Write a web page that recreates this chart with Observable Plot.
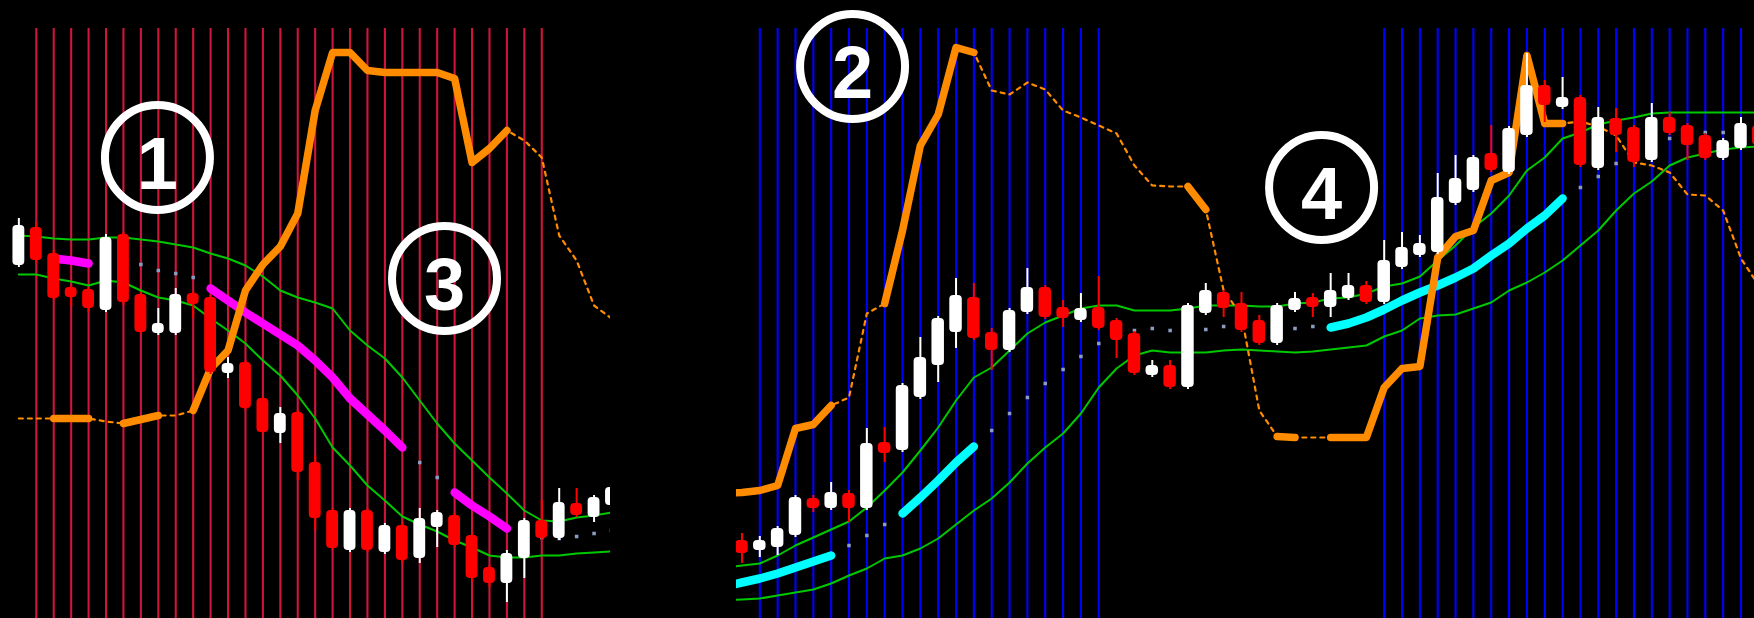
<!DOCTYPE html>
<html><head><meta charset="utf-8">
<script src="https://cdn.jsdelivr.net/npm/d3@7"></script>
<script src="https://cdn.jsdelivr.net/npm/@observablehq/plot@0.6"></script>
<style>
html,body{margin:0;padding:0;background:#000;}
#chart{position:relative;width:1754px;height:618px;background:#000;overflow:hidden;}
.panel{position:absolute;top:0;height:618px;overflow:hidden;}
</style></head><body><div id="chart"></div>
<script>
// ---------- shared price frame ----------
const PRICE_MIN = 82, PRICE_MAX = 700, GRID_TOP = 672;

// ---------- LEFT PANEL (first candle = slot -1) ----------
const leftCandleStart = -1;
const leftOpen  = [435,473,447,413,411,390,466,406,367,367,407,403,327,338,302,267,288,238,190,150,190,148,175,142,173,185,165,133,117,142,180,162,197,183,195];
const leftHigh  = [482,478,450,415,413,466,468,408,392,412,409,405,343,340,304,293,290,245,192,192,192,177,178,192,190,187,168,135,150,182,200,212,212,205,218];
const leftLow   = [433,437,400,394,388,388,395,366,365,365,382,326,322,290,266,257,220,170,150,148,148,146,137,137,153,153,118,113,98,122,160,160,183,178,193];
const leftClose = [475,440,402,403,392,463,398,368,377,406,396,328,337,292,268,287,228,182,152,190,150,175,140,182,188,155,122,117,147,180,162,198,185,203,213];

const leftLineStart = -1;
const leftUpper  = [465,464,462,461,461,463,463,461,459,456,453,447,442,435,424,410,403,398,392,370,355,342,323,300,277,257,240,223,207,190,180,179,183,185,188];
const leftLower  = [426,426,422,419,415,420,418,410,403,400,395,382,370,357,340,325,305,282,253,235,215,200,184,176,169,160,153,145,143,143,145,145,147,148,149];
const leftMiddle = [446,445,442,440,437,435,434,436,430,427,423,412,400,388,377,366,355,340,323,302,286,270,253,238,223,208,195,184,172,165,163,162,164,167,170];
const leftOrange = [282,282,282,282,282,279,277,281,285,285,290,332,350,410,436,454,487,590,648,648,630,628,628,628,628,622,538,552,570,560,543,465,440,395,382];
const leftTrendRanges  = [[1,3],[10,21],[24,27]];
const leftOrangeThick  = [[1,3],[5,7],[9,27]];
const leftGridSlots = [0,1,2,3,4,5,6,7,8,9,10,11,12,13,14,15,16,17,18,19,20,21,22,23,24,25,26,27,28,29];
const leftMarkers = [{i: 6.95, p: 543, label: "1"}, {i: 23.42, p: 422, label: "3"}];

// ---------- RIGHT PANEL ----------
const rightCandleStart = -1;
const rightOpen  = [160,150,153,165,202,192,207,192,258,250,303,335,368,403,368,350,388,413,393,380,393,380,367,325,335,313,387,408,397,380,357,390,403,393,402,415,398,433,445,448,497,510,547,528,565,615,593,603,532,582,573,540,583,575,565,542,552,575];
const rightHigh  = [167,164,174,205,205,218,210,272,273,317,363,384,422,417,372,392,432,415,400,407,424,382,369,340,340,397,417,410,408,385,397,408,407,427,427,419,460,468,465,527,545,545,575,574,647,620,623,605,593,592,575,597,588,577,567,562,583,577];
const rightLow   = [137,143,145,163,188,190,178,190,238,248,301,318,352,360,330,348,386,381,373,378,370,342,325,323,311,311,385,383,368,355,355,388,383,383,400,396,396,431,443,446,495,508,528,526,563,578,591,533,530,548,533,538,565,540,540,540,550,553];
const rightClose = [147,160,172,203,192,208,192,257,247,315,343,382,405,362,350,390,413,383,382,392,372,360,327,335,313,395,410,392,370,357,395,402,393,410,415,398,440,453,457,503,522,543,530,572,615,595,603,535,583,565,538,583,567,555,542,560,577,555];

const rightLineStart = -2;
const rightUpper  = [133,135,137,145,155,163,171,179,193,210,228,250,273,300,323,333,350,367,378,385,392,395,395,390,390,390,392,395,395,395,394,394,397,398,402,403,407,414,417,424,440,455,473,487,505,530,543,562,568,576,580,583,587,588,588,588,588,588,588];
const rightLower  = [100,101,102,105,108,111,117,125,132,142,145,152,162,176,190,202,218,237,253,267,287,313,332,345,350,348,348,348,350,351,350,349,348,349,351,353,355,364,370,382,385,386,392,398,410,418,428,440,455,470,490,507,519,535,543,547,551,553,554];
const rightMiddle = [114,118,122,127,133,139,145,155,165,176,187,203,220,238,254,270,287,303,317,331,344,357,365,370,372,370,370,371,374,373,373,372,372,374,373,377,383,391,400,408,415,423,432,445,457,472,485,502,513,524,537,548,555,562,565,568,568,570,571];
const rightOrange = [207,208,210,215,272,276,295,303,387,397,470,555,586,653,648,610,606,618,611,590,583,575,567,535,515,514,514,491,410,385,290,264,263,263,263,263,263,313,332,334,443,464,470,520,528,645,577,577,579,574,565,538,535,528,506,505,490,442,415];
const rightTrendRanges = [[-2,4],[8,12],[32,45]];
const rightOrangeThick = [[-2,4],[7,12],[24,25],[29,30],[32,45]];
const rightGridSlots = [0,1,2,3,4,5,6,7,8,9,10,11,12,13,14,15,16,17,18,19,35,36,37,38,39,40,41,42,43,44,45,46,47,48,49,50,51,52,53,54,55];
const rightMarkers = [{i: 5.2, p: 634, label: "2"}, {i: 31.49, p: 513, label: "4"}];

// ---------- helpers ----------
const series = (start, arr) => arr.map((v, k) => ({i: start + k, v}));
const segments = (rows, ranges) => ranges.flatMap(([a, b], s) => rows.filter(d => d.i >= a && d.i <= b).map(d => ({...d, seg: s})));
const inRanges = (i, ranges) => ranges.some(([a, b]) => i >= a && i <= b);
const candles = (start, o, h, l, c) => o.map((_, k) => ({i: start + k, o: o[k], h: h[k], l: l[k], c: c[k], up: c[k] >= o[k]}));

function panel(cfg) {
  const cs = candles(cfg.candleStart, cfg.open, cfg.high, cfg.low, cfg.close);
  const up = series(cfg.lineStart, cfg.upper);
  const lo = series(cfg.lineStart, cfg.lower);
  const mid = series(cfg.lineStart, cfg.middle);
  const org = series(cfg.lineStart, cfg.orange);
  const hw = cfg.halfBody;
  return Plot.plot({
    width: cfg.width, height: 618,
    marginTop: 0, marginRight: 0, marginBottom: 0, marginLeft: 0,
    style: {background: "transparent", overflow: "hidden"},
    x: {type: "linear", domain: cfg.xDomain, range: cfg.xRange, axis: null},
    y: {type: "linear", domain: [PRICE_MIN, PRICE_MAX], range: [618, 0], axis: null},
    marks: [
      Plot.ruleX(cfg.grid, {x: d => d, y1: GRID_TOP, y2: PRICE_MIN - 10, stroke: cfg.gridColor, strokeWidth: 2.1}),
      Plot.line(up, {x: "i", y: "v", stroke: "#00c800", strokeWidth: 2, clip: true}),
      Plot.line(lo, {x: "i", y: "v", stroke: "#00c800", strokeWidth: 2, clip: true}),
      Plot.dot(mid.filter(d => !inRanges(d.i, cfg.trend)), {x: "i", y: "v", symbol: "square", r: 2, fill: "#8a9cc0", stroke: "none"}),
      Plot.line(segments(mid, cfg.trend), {x: "i", y: "v", z: "seg", stroke: cfg.trendColor, strokeWidth: 8.5, strokeLinecap: "round", strokeLinejoin: "round", clip: true}),
      Plot.line(org, {x: "i", y: "v", stroke: "#ff8c00", strokeWidth: 2.2, strokeDasharray: "4,5", clip: true}),
      Plot.line(segments(org, cfg.orangeThick), {x: "i", y: "v", z: "seg", stroke: "#ff8c00", strokeWidth: 7.5, strokeLinecap: "round", strokeLinejoin: "round", clip: true}),
      Plot.ruleX(cs, {x: "i", y1: "l", y2: "h", stroke: d => d.up ? "#ffffff" : "#ff0000", strokeWidth: 2}),
      Plot.rect(cs, {x1: d => d.i - hw, x2: d => d.i + hw, y1: "o", y2: "c", fill: d => d.up ? "#ffffff" : "#ff0000", rx: 4}),
      Plot.dot(cfg.markers, {x: "i", y: "p", r: 52.5, stroke: "#ffffff", strokeWidth: 8, fill: "none"}),
      Plot.text(cfg.markers, {x: "i", y: "p", text: "label", fill: "#ffffff", fontSize: 74, fontWeight: "bold", fontFamily: "'Liberation Sans', Arial, sans-serif", dy: 8})
    ]
  });
}

const chart = document.getElementById("chart");
const leftDiv = document.createElement("div");
leftDiv.className = "panel"; leftDiv.style.left = "0px"; leftDiv.style.width = "610px";
leftDiv.appendChild(panel({
  width: 610, xDomain: [0, 29], xRange: [35.8, 541.27],
  candleStart: leftCandleStart, open: leftOpen, high: leftHigh, low: leftLow, close: leftClose,
  lineStart: leftLineStart, upper: leftUpper, lower: leftLower, middle: leftMiddle, orange: leftOrange,
  trend: leftTrendRanges, orangeThick: leftOrangeThick, trendColor: "#ff00ff",
  grid: leftGridSlots, gridColor: "#d0143c", markers: leftMarkers, halfBody: 0.34
}));
chart.appendChild(leftDiv);

const rightDiv = document.createElement("div");
rightDiv.className = "panel"; rightDiv.style.left = "736px"; rightDiv.style.width = "1018px";
rightDiv.appendChild(panel({
  width: 1018, xDomain: [0, 55], xRange: [23.3, 1004.5],
  candleStart: rightCandleStart, open: rightOpen, high: rightHigh, low: rightLow, close: rightClose,
  lineStart: rightLineStart, upper: rightUpper, lower: rightLower, middle: rightMiddle, orange: rightOrange,
  trend: rightTrendRanges, orangeThick: rightOrangeThick, trendColor: "#00ffff",
  grid: rightGridSlots, gridColor: "#0000ff", markers: rightMarkers, halfBody: 0.35
}));
chart.appendChild(rightDiv);
</script></body></html>
